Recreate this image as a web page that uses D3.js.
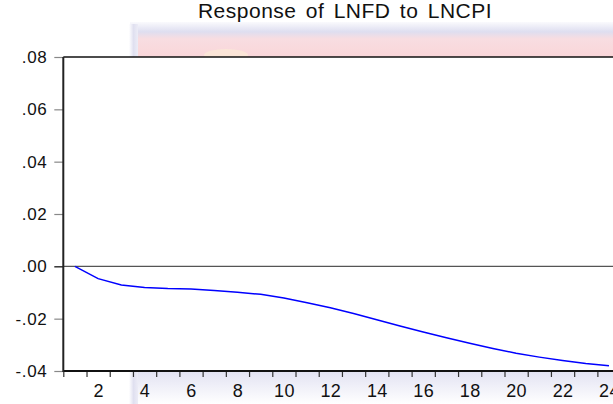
<!DOCTYPE html>
<html>
<head>
<meta charset="utf-8">
<script src="https://cdn.jsdelivr.net/npm/d3@7"></script>
<style>
  body { margin: 0; background: #fff; }
  svg { display: block; font-family: "Liberation Sans", Arial, sans-serif; }
  .eje path { display: none; }
</style>
</head>
<body>
<script>
// datos (respuesta de LNFD a un shock en LNCPI)
var periodos = [1, 2, 3, 4, 5, 6, 7, 8, 9, 10, 11, 12, 13, 14, 15, 16, 17, 18, 19, 20, 21, 22, 23, 24];
var respuesta = [0, -0.0047, -0.0071, -0.0081, -0.0085, -0.0087, -0.0092, -0.0099, -0.0107, -0.0121,
                 -0.0139, -0.0158, -0.0180, -0.0204, -0.0228, -0.0251, -0.0273, -0.0294, -0.0314,
                 -0.0332, -0.0347, -0.0360, -0.0371, -0.0380];
var ticksX = [2, 4, 6, 8, 10, 12, 14, 16, 18, 20, 22, 24];
var etiquetasX = ["2", "4", "6", "8", "10", "12", "14", "16", "18", "20", "22", "24"];
var ticksY = [-0.04, -0.02, 0.00, 0.02, 0.04, 0.06, 0.08];
var etiquetasY = ["-.04", "-.02", ".00", ".02", ".04", ".06", ".08"];
var titulo = "Response of LNFD to LNCPI";

var anchoSvg = 613,
    altoSvg = 404,
    margen = {sup: 57, izq: 63.3, inf: 33};

// escalas: cada periodo ocupa una celda, el marco va de 0.5 a 24.5
var escalaX = d3.scaleLinear()
    .domain([0.5, 24.5])
    .range([margen.izq, 620.6]);

var escalaY = d3.scaleLinear()
    .domain([-0.04, 0.08])
    .range([altoSvg - margen.inf, margen.sup]);

var svg = d3.select('body')
    .append('svg')
    .attr('width', anchoSvg)
    .attr('height', altoSvg);

var defs = svg.append('defs');
var gradSup = defs.append('linearGradient').attr('id', 'gradSup')
    .attr('x1', 0).attr('y1', 0).attr('x2', 0).attr('y2', 1);
gradSup.append('stop').attr('offset', '0%').attr('stop-color', '#fafafd');
gradSup.append('stop').attr('offset', '28%').attr('stop-color', '#dedef0');
gradSup.append('stop').attr('offset', '48%').attr('stop-color', '#f8dde1');
gradSup.append('stop').attr('offset', '100%').attr('stop-color', '#fad6d9');

var gradInf = defs.append('linearGradient').attr('id', 'gradInf')
    .attr('x1', 0).attr('y1', 0).attr('x2', 0).attr('y2', 1);
gradInf.append('stop').attr('offset', '0%').attr('stop-color', '#e2e2f2');
gradInf.append('stop').attr('offset', '100%').attr('stop-color', '#ffffff');

var gradIzq = defs.append('linearGradient').attr('id', 'gradIzq')
    .attr('x1', 0).attr('y1', 0).attr('x2', 1).attr('y2', 0);
gradIzq.append('stop').attr('offset', '0%').attr('stop-color', '#ffffff');
gradIzq.append('stop').attr('offset', '50%').attr('stop-color', '#e0e0f0');
gradIzq.append('stop').attr('offset', '100%').attr('stop-color', '#ececf6');

// fondo: ventana difuminada detras del grafico
var fondo = svg.append('g').attr('class', 'fondo');
fondo.append('rect')
    .attr('x', 130).attr('y', 22).attr('width', 500).attr('height', margen.sup - 22)
    .attr('fill', 'url(#gradSup)');
fondo.append('rect')
    .attr('x', 129).attr('y', 24).attr('width', 9).attr('height', margen.sup - 24)
    .attr('fill', 'url(#gradIzq)');
fondo.append('ellipse')
    .attr('cx', 226).attr('cy', 55).attr('rx', 22).attr('ry', 6)
    .attr('fill', '#fbeed6').attr('opacity', 0.6);
fondo.append('rect')
    .attr('x', 130).attr('y', escalaY(-0.04)).attr('width', 500).attr('height', margen.inf)
    .attr('fill', 'url(#gradInf)');
fondo.append('rect')
    .attr('x', 129).attr('y', escalaY(-0.04)).attr('width', 9).attr('height', margen.inf)
    .attr('fill', 'url(#gradIzq)');

// area del grafico
svg.append('rect')
    .attr('x', escalaX(0.5))
    .attr('y', escalaY(0.08))
    .attr('width', escalaX(24.5) - escalaX(0.5))
    .attr('height', escalaY(-0.04) - escalaY(0.08))
    .attr('fill', '#fff');

// linea del cero
svg.append('line')
    .attr('x1', escalaX(0.5)).attr('x2', escalaX(24.5))
    .attr('y1', escalaY(0)).attr('y2', escalaY(0))
    .attr('stroke', '#555').attr('stroke-width', 1.2);

// eje Y
var ejeY = d3.axisLeft(escalaY)
    .tickValues(ticksY)
    .tickSize(9)
    .tickPadding(7)
    .tickFormat((d, i) => etiquetasY[i]);
svg.append('g')
    .attr('class', 'eje ejeY')
    .attr('transform', 'translate(' + escalaX(0.5) + ',0)')
    .call(ejeY)
    .call(g => g.selectAll('line').attr('stroke', (d) => d === 0 ? '#000' : '#888').attr('stroke-width', 1.2))
    .call(g => g.selectAll('text').attr('fill', '#111').style('font-size', '17px').style('letter-spacing', '0.6px'));

// eje X: marcas en los limites de cada periodo
var ejeXMarcas = d3.axisBottom(escalaX)
    .tickValues(periodos.map(p => p - 0.5))
    .tickSize(6)
    .tickFormat('');
svg.append('g')
    .attr('class', 'eje ejeX')
    .attr('transform', 'translate(0,' + escalaY(-0.04) + ')')
    .call(ejeXMarcas)
    .call(g => g.selectAll('line').attr('stroke', '#333').attr('stroke-width', 1.2));

// eje X: etiquetas en el centro de los periodos pares
var ejeXEtiquetas = d3.axisBottom(escalaX)
    .tickValues(ticksX)
    .tickSize(0)
    .tickPadding(13)
    .tickFormat((d, i) => etiquetasX[i]);
svg.append('g')
    .attr('class', 'eje ejeXEtiquetas')
    .attr('transform', 'translate(0,' + escalaY(-0.04) + ')')
    .call(ejeXEtiquetas)
    .call(g => g.selectAll('line').remove())
    .call(g => g.selectAll('text').attr('fill', '#111').style('font-size', '18px').style('letter-spacing', '0.4px'));

// marco
svg.append('line')
    .attr('x1', escalaX(0.5)).attr('x2', escalaX(24.5))
    .attr('y1', escalaY(0.08)).attr('y2', escalaY(0.08))
    .attr('stroke', '#111').attr('stroke-width', 1.5);
svg.append('line')
    .attr('x1', escalaX(0.5)).attr('x2', escalaX(24.5))
    .attr('y1', escalaY(-0.04)).attr('y2', escalaY(-0.04))
    .attr('stroke', '#111').attr('stroke-width', 1.8);
svg.append('line')
    .attr('x1', escalaX(0.5)).attr('x2', escalaX(0.5))
    .attr('y1', escalaY(0.08)).attr('y2', escalaY(-0.04) + 1)
    .attr('stroke', '#222').attr('stroke-width', 2);

// linea de respuesta
var linea = d3.line()
    .x((d, i) => escalaX(periodos[i]))
    .y(d => escalaY(d));
svg.append('path')
    .datum(respuesta)
    .attr('class', 'linea')
    .attr('d', linea)
    .attr('fill', 'none')
    .attr('stroke', '#0000ff')
    .attr('stroke-width', 1.5);

// titulo
svg.append('text')
    .attr('class', 'titulo')
    .attr('x', 345)
    .attr('y', 18)
    .attr('text-anchor', 'middle')
    .style('font-size', '21px')
    .style('word-spacing', '3px')
    .style('letter-spacing', '0.5px')
    .attr('fill', '#111')
    .text(titulo);
</script>
</body>
</html>
